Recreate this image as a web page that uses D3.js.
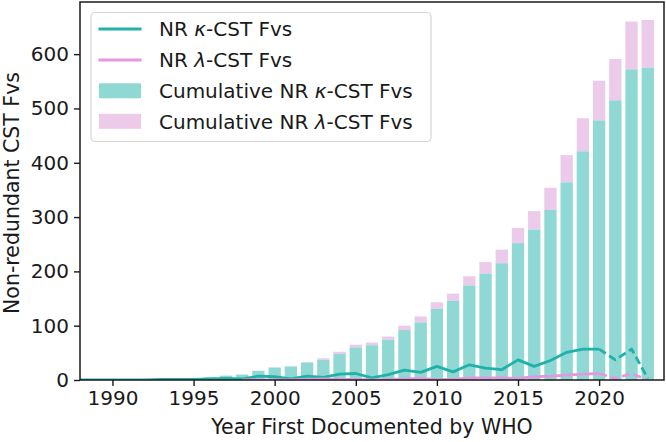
<!DOCTYPE html>
<html>
<head>
<meta charset="utf-8">
<script src="https://cdn.jsdelivr.net/npm/d3@7"></script>
<style>
  html, body { margin: 0; padding: 0; background: #ffffff; }
  svg { display: block; }
  text { font-family: "DejaVu Sans", sans-serif; fill: #1a1a1a; }
</style>
</head>
<body>
<div id="chart"></div>
<script>
// ---- data ----
const years = [1988, 1989, 1990, 1991, 1992, 1993, 1994, 1995, 1996, 1997, 1998, 1999,
               2000, 2001, 2002, 2003, 2004, 2005, 2006, 2007, 2008, 2009, 2010, 2011,
               2012, 2013, 2014, 2015, 2016, 2017, 2018, 2019, 2020, 2021, 2022, 2023];
// non-redundant kappa-CST Fvs first documented each year
const kappaNew = [0, 0, 0, 0, 0, 1, 1, 1, 2, 3, 2, 7,
                  6, 2, 7, 5, 11, 12, 4, 10, 18, 14, 25, 15,
                  28, 22, 19, 37, 25, 36, 51, 57, 57, 37, 57, 3];
// non-redundant lambda-CST Fvs first documented each year (null = not recorded)
const lambdaNew = [null, null, null, null, null, null, null, null, null, null, 0, 0,
                   0, 0, 1, 2, 1, 1, 0, 1, 2, 3, 1, 1,
                   4, 4, 4, 3, 6, 7, 9, 11, 12, 3, 12, 0];
const dashFromYear = 2020;   // lines are dashed from this year on
const xTicks = [1990, 1995, 2000, 2005, 2010, 2015, 2020];
const yTicks = [0, 100, 200, 300, 400, 500, 600];
const legendLabels = [
  ["NR ", "κ", "-CST Fvs"],
  ["NR ", "λ", "-CST Fvs"],
  ["Cumulative NR ", "κ", "-CST Fvs"],
  ["Cumulative NR ", "λ", "-CST Fvs"]
];
const xTitle = "Year First Documented by WHO";
const yTitle = "Non-redundant CST Fvs";

// ---- derived cumulative series ----
const kappaCum = Array.from(d3.cumsum(kappaNew));
const lambdaCum = Array.from(d3.cumsum(lambdaNew.map(v => v == null ? 0 : v)));

const rows = years.map((yr, i) => ({
  year: yr,
  kNew: kappaNew[i],
  lNew: lambdaNew[i],
  kCum: kappaCum[i],
  tot: kappaCum[i] + lambdaCum[i]
}));

// ---- colours ----
const tealLine = "#20b2aa";
const pinkLine = "#e598e1";
const tealBar = "#8fd8d3";
const pinkBar = "#eccbea";

// ---- layout ----
const W = 666, H = 442;
const m = { left: 80, right: 2, top: 2, bottom: 62 };
const svg = d3.select("#chart").append("svg").attr("width", W).attr("height", H);

const x = d3.scaleLinear().domain([1988, 2024]).range([m.left, W - m.right]);
const y = d3.scaleLinear().domain([0, 696]).range([H - m.bottom, m.top]);
const barW = (x(1) - x(0)) * 0.76;

const clip = svg.append("clipPath").attr("id", "plotclip").append("rect")
  .attr("x", m.left).attr("y", m.top)
  .attr("width", W - m.right - m.left).attr("height", H - m.bottom - m.top);

const plot = svg.append("g").attr("clip-path", "url(#plotclip)");

// bars: lambda cumulative stacked on kappa cumulative
plot.append("g").selectAll("rect.pk").data(rows.filter(d => d.tot > d.kCum)).join("rect")
  .attr("x", d => x(d.year) - barW / 2)
  .attr("width", barW)
  .attr("y", d => y(d.tot))
  .attr("height", d => y(d.kCum) - y(d.tot))
  .attr("fill", pinkBar);

plot.append("g").selectAll("rect.tl").data(rows.filter(d => d.kCum > 0)).join("rect")
  .attr("x", d => x(d.year) - barW / 2)
  .attr("width", barW)
  .attr("y", d => y(d.kCum))
  .attr("height", d => y(0) - y(d.kCum))
  .attr("fill", tealBar);

// lines
function drawLine(key, color) {
  const pts = rows.filter(d => d[key] != null);
  const gen = d3.line().x(d => x(d.year)).y(d => y(d[key]));
  plot.append("path").datum(pts.filter(d => d.year <= dashFromYear))
    .attr("d", gen).attr("fill", "none").attr("stroke", color)
    .attr("stroke-width", 2.8).attr("stroke-linejoin", "round").attr("stroke-linecap", "butt");
  plot.append("path").datum(pts.filter(d => d.year >= dashFromYear))
    .attr("d", gen).attr("fill", "none").attr("stroke", color)
    .attr("stroke-width", 2.8).attr("stroke-dasharray", "8,4")
    .attr("stroke-linejoin", "round");
}
drawLine("kNew", tealLine);
drawLine("lNew", pinkLine);

// axes
const axisColor = "#1a1a1a";
const xAxis = svg.append("g").attr("transform", `translate(0,${H - m.bottom})`)
  .call(d3.axisBottom(x).tickValues(xTicks).tickFormat(d3.format("d")).tickSize(6).tickPadding(5));
const yAxis = svg.append("g").attr("transform", `translate(${m.left},0)`)
  .call(d3.axisLeft(y).tickValues(yTicks).tickSize(6).tickPadding(5));
[xAxis, yAxis].forEach(g => {
  g.select(".domain").remove();
  g.selectAll(".tick line").attr("stroke", axisColor).attr("stroke-width", 1.4);
  g.selectAll(".tick text").attr("font-size", 20).attr("fill", axisColor)
    .attr("font-family", "DejaVu Sans, sans-serif");
});

// frame
svg.append("rect")
  .attr("x", m.left).attr("y", m.top)
  .attr("width", W - m.right - m.left).attr("height", H - m.bottom - m.top)
  .attr("fill", "none").attr("stroke", axisColor).attr("stroke-width", 1.5);

// axis titles
svg.append("text")
  .attr("x", (m.left + W - m.right) / 2).attr("y", 434)
  .attr("text-anchor", "middle").attr("font-size", 20.5)
  .text(xTitle);
svg.append("text")
  .attr("transform", `translate(18.5,${(m.top + H - m.bottom) / 2 + 2}) rotate(-90)`)
  .attr("text-anchor", "middle").attr("font-size", 20.5)
  .text(yTitle);

// legend
const lg = svg.append("g");
lg.append("rect")
  .attr("x", 91).attr("y", 12.5).attr("width", 340).attr("height", 129)
  .attr("rx", 4).attr("fill", "#ffffff").attr("fill-opacity", 0.8)
  .attr("stroke", "#d6d6d6").attr("stroke-width", 1.2);
const rowY = [29, 60, 90.8, 121.3];
const handles = [
  { type: "line", color: tealLine },
  { type: "line", color: pinkLine },
  { type: "rect", color: tealBar },
  { type: "rect", color: pinkBar }
];
handles.forEach((h, i) => {
  if (h.type === "line") {
    lg.append("line").attr("x1", 98.5).attr("x2", 141.5)
      .attr("y1", rowY[i]).attr("y2", rowY[i])
      .attr("stroke", h.color).attr("stroke-width", 2.8);
  } else {
    lg.append("rect").attr("x", 99).attr("y", rowY[i] - 7.5)
      .attr("width", 42).attr("height", 15).attr("fill", h.color);
  }
  const t = lg.append("text").attr("x", 159).attr("y", rowY[i] + 7.2).attr("font-size", 20);
  const parts = legendLabels[i];
  t.append("tspan").text(parts[0]);
  t.append("tspan").attr("font-style", "italic").text(parts[1]);
  t.append("tspan").text(parts[2]);
});
</script>
</body>
</html>
